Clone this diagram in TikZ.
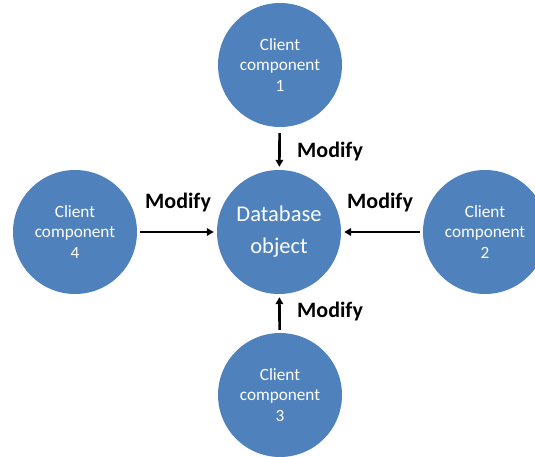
\documentclass[tikz,border=0pt]{standalone}
\usepackage{fontspec}
\setmainfont{Carlito}
\usetikzlibrary{arrows.meta}
\definecolor{compblue}{RGB}{79,129,189}

\begin{document}
\begin{tikzpicture}[x=1pt,y=-1pt,
    comp/.style={circle,fill=compblue,text=white,minimum size=124pt,inner sep=0pt,align=center,font=\fontsize{17.2}{20.5}\selectfont},
    modarrow/.style={-{Triangle[length=7pt,width=7.5pt]},line width=2.6pt,shorten <=3pt,shorten >=3pt},
    modlabel/.style={anchor=base west,inner sep=0pt,font=\fontsize{22}{26}\selectfont\bfseries}]
    \useasboundingbox (0,0) rectangle (535,457);
    \clip (0,0) rectangle (535,457);
    % central object and the four clients
    \node[comp,font=\fontsize{22.5}{32}\selectfont] (db) at (279,232) {Database\\object};
    \node[comp] (c1) at (280,65) {Client\\component\\1};
    \node[comp] (c2) at (485,232) {Client\\component\\2};
    \node[comp] (c3) at (280,395) {Client\\component\\3};
    \node[comp] (c4) at (75,232) {Client\\component\\4};
    % arrows
    \draw[modarrow,shorten <=6pt] (c1) -- (db);
    \draw[modarrow] (c2) -- (db);
    \draw[modarrow] (c3) -- (db);
    \draw[modarrow] (c4) -- (db);
    \node[modlabel] (m1) at (297,158) {Modify};
    \node[modlabel] (m2) at (347,208) {Modify};
    \node[modlabel] (m3) at (297,317) {Modify};
    \node[modlabel] (m4) at (145,208) {Modify};
\end{tikzpicture}
\end{document}
